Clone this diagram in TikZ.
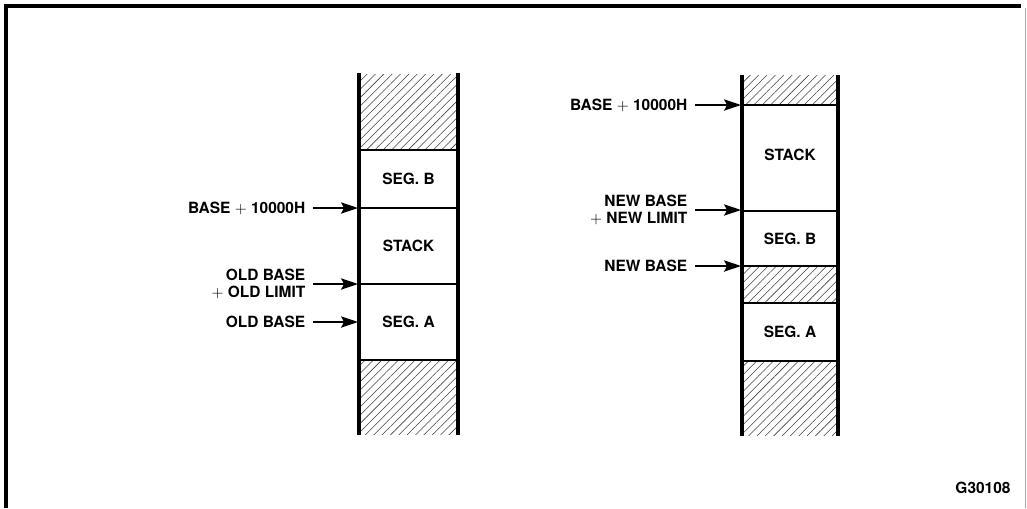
\documentclass[tikz,border=0pt]{standalone}
\usepackage{fontspec}
\setmainfont{TeX Gyre Heros}
\usetikzlibrary{arrows.meta,patterns.meta,positioning}

\tikzset{
  wall/.style={line width=2.6pt},
  divider/.style={line width=1.2pt},
  hatched/.style={pattern={Lines[angle=45,distance=4.2pt,line width=0.4pt]}, pattern color=black!75},
  addr/.style={font=\bfseries\fontsize{11}{12.5}\selectfont, align=right, anchor=east, inner sep=0pt, outer xsep=5.5pt},
  seg/.style={font=\bfseries\fontsize{11}{12.5}\selectfont},
  pointer/.style={-{Stealth[length=12pt,width=8pt,inset=2pt]}, line width=1.2pt},
}
\newcommand{\thinplus}{$+$}

\begin{document}
\begin{tikzpicture}[x=0.025cm,y=-0.025cm]
  \useasboundingbox (0,0) rectangle (1027,508);

  % Frame
  \draw[line width=2.4pt] (6,508) -- (6,6) -- (1021,6);
  \draw[black!35, line width=0.4pt] (1025,8) -- (1025,508);

  % Old layout
  \path[hatched] (359,74) rectangle (458,150);
  \path[hatched] (359,360) rectangle (458,434);
  \foreach \y in {150,208,284,360}
    \draw[divider] (359,\y) -- (458,\y);
  \draw[wall] (359,73) -- (359,435);
  \draw[wall] (458,73) -- (458,435);

  \node[seg] (oldsegb) at (408.5,179) {SEG. B};
  \node[seg] (oldstack) at (408.5,246) {STACK};
  \node[seg] (oldsega) at (408.5,322) {SEG. A};

  \coordinate (oldtop) at (358,208);
  \coordinate (oldlimit) at (358,284);
  \coordinate (oldbase) at (358,322);

  \node[addr] (oldtoplbl) at (313,208) {BASE \thinplus\ 10000H};
  \node[addr] (oldlimitlbl) at (313,284) {OLD BASE\\\thinplus\ OLD LIMIT};
  \node[addr] (oldbaselbl) at (313,322) {OLD BASE};

  \draw[pointer] (oldtoplbl.east) -- (oldtop);
  \draw[pointer] (oldlimitlbl.east) -- (oldlimit);
  \draw[pointer] (oldbaselbl.east) -- (oldbase);

  % New layout
  \path[hatched] (742,75) rectangle (838,105);
  \path[hatched] (742,266) rectangle (838,303);
  \path[hatched] (742,361) rectangle (838,435);
  \foreach \y in {105,211,266,303,361}
    \draw[divider] (742,\y) -- (838,\y);
  \draw[wall] (742,75) -- (742,436);
  \draw[wall] (838,75) -- (838,436);

  \node[seg] (newstack) at (790,155) {STACK};
  \node[seg] (newsegb) at (790,238.5) {SEG. B};
  \node[seg] (newsega) at (790,332) {SEG. A};

  \coordinate (newtop) at (741,105);
  \coordinate (newlimit) at (741,210);
  \coordinate (newbase) at (741,266);

  \node[addr] (newtoplbl) at (695,105) {BASE \thinplus\ 10000H};
  \node[addr] (newlimitlbl) at (695,210) {NEW BASE\\\thinplus\ NEW LIMIT};
  \node[addr] (newbaselbl) at (695,266) {NEW BASE};

  \draw[pointer] (newtoplbl.east) -- (newtop);
  \draw[pointer] (newlimitlbl.east) -- (newlimit);
  \draw[pointer] (newbaselbl.east) -- (newbase);

  % Figure number
  \node[seg] (fignum) at (983,488) {G30108};
\end{tikzpicture}
\end{document}
